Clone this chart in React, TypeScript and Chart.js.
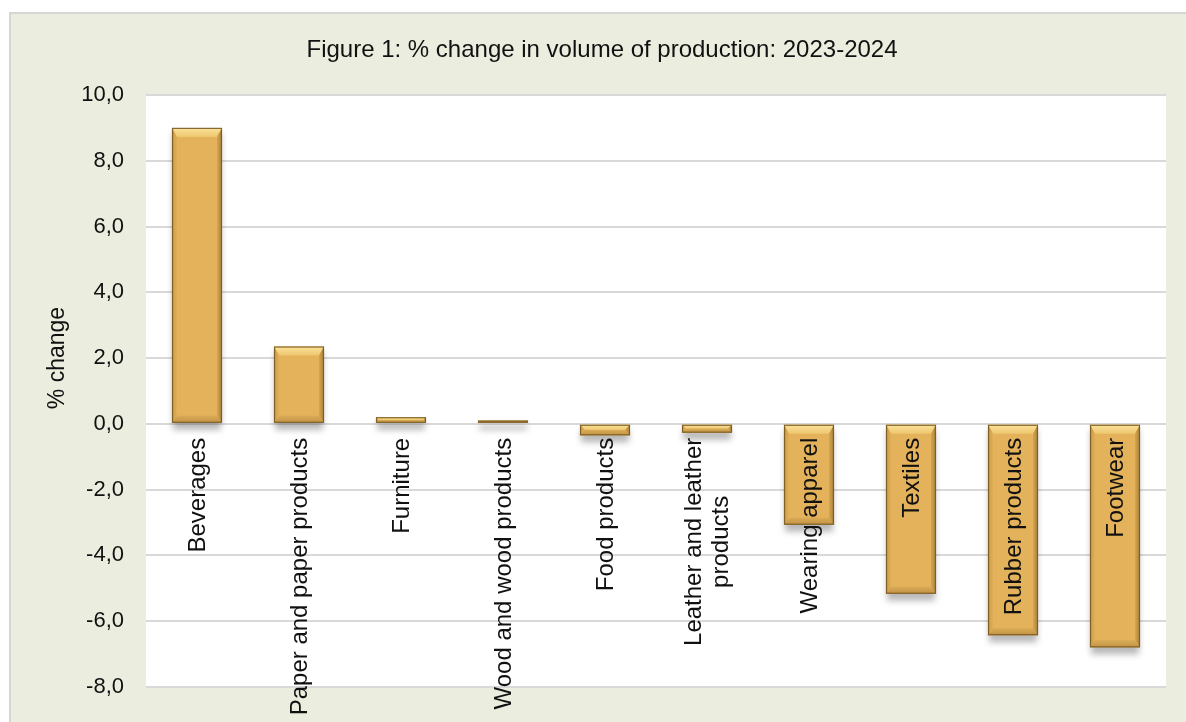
import React, { useEffect, useRef } from "react";
import { Chart, registerables } from "chart.js";

Chart.register(...registerables);

const categories: string[][] = [
  ["Beverages"],
  ["Paper and paper products"],
  ["Furniture"],
  ["Wood and wood products"],
  ["Food products"],
  ["Leather and leather", "products"],
  ["Wearing apparel"],
  ["Textiles"],
  ["Rubber products"],
  ["Footwear"],
];
const values: number[] = [9.0, 2.35, 0.2, 0.1, -0.35, -0.27, -3.07, -5.17, -6.43, -6.8];
const yMin = -8;
const yMax = 10;
const yStep = 2;
const titleText = "Figure 1: % change in volume of production: 2023-2024";
const yAxisTitle = "% change";

const FONT = "'Liberation Sans', Arial, sans-serif";
const TEXT = "#111111";
const BAR = "#E3B25A";

const panelPlugin = {
  id: "panel",
  beforeDraw(chart: any) {
    const { ctx, width, height, chartArea } = chart;
    ctx.save();
    ctx.fillStyle = "#ffffff";
    ctx.fillRect(0, 0, width, height);
    ctx.fillStyle = "#EBEEDF";
    ctx.fillRect(10, 13, width - 10, height - 13);
    ctx.strokeStyle = "#D6D6D6";
    ctx.lineWidth = 2;
    ctx.strokeRect(10, 13, width + 10, height + 10);
    ctx.fillStyle = "#ffffff";
    ctx.fillRect(chartArea.left, chartArea.top, chartArea.right - chartArea.left, chartArea.bottom - chartArea.top);
    ctx.restore();
  },
  afterDraw(chart: any) {
    const { ctx } = chart;
    ctx.save();
    ctx.fillStyle = TEXT;
    ctx.font = `24px ${FONT}`;
    ctx.textAlign = "center";
    ctx.textBaseline = "alphabetic";
    ctx.fillText(titleText, 602, 57);
    ctx.translate(64, 358);
    ctx.rotate(-Math.PI / 2);
    ctx.font = `23px ${FONT}`;
    ctx.textAlign = "center";
    ctx.fillText(yAxisTitle, 0, 0);
    ctx.restore();
  },
};

const barBox = (el: any) => {
  const p = el.getProps(["x", "y", "base", "width"], true);
  const l = p.x - p.width / 2;
  const r = p.x + p.width / 2;
  const t = Math.min(p.y, p.base);
  const b = Math.max(p.y, p.base);
  return { l, r, t, b };
};

const barStylePlugin = {
  id: "barStyle",
  beforeDatasetsDraw(chart: any) {
    const ctx = chart.ctx;
    const meta = chart.getDatasetMeta(0);
    ctx.save();
    ctx.filter = "blur(3px)";
    ctx.fillStyle = "rgba(0,0,0,0.28)";
    meta.data.forEach((el: any) => {
      const { l, r, t, b } = barBox(el);
      ctx.fillRect(l + 1, t + 5, r - l - 2, b - t + 2);
    });
    ctx.restore();
  },
  afterDatasetsDraw(chart: any) {
    const ctx = chart.ctx;
    const meta = chart.getDatasetMeta(0);
    ctx.save();
    meta.data.forEach((el: any) => {
      const { l, r, t, b } = barBox(el);
      const h = b - t;
      const tb = Math.min(9, h / 2);
      const bb = Math.min(7, h / 2);
      const sb = Math.min(5, h / 2);
      const il = l + sb, ir = r - sb, it = t + tb, ib = b - bb;
      const poly = (pts: number[][], fill: any) => {
        ctx.beginPath();
        ctx.moveTo(pts[0][0], pts[0][1]);
        for (let i = 1; i < pts.length; i++) ctx.lineTo(pts[i][0], pts[i][1]);
        ctx.closePath();
        ctx.fillStyle = fill;
        ctx.fill();
      };
      const gTop = ctx.createLinearGradient(0, t, 0, it);
      gTop.addColorStop(0, "#FBE39A");
      gTop.addColorStop(1, "#EEC66E");
      poly([[l, t], [r, t], [ir, it], [il, it]], gTop);
      const gBot = ctx.createLinearGradient(0, ib, 0, b);
      gBot.addColorStop(0, "#D9AB56");
      gBot.addColorStop(1, "#C29244");
      poly([[l, b], [r, b], [ir, ib], [il, ib]], gBot);
      const gL = ctx.createLinearGradient(l, 0, il, 0);
      gL.addColorStop(0, "#C99A48");
      gL.addColorStop(1, "#E0AF58");
      poly([[l, t], [il, it], [il, ib], [l, b]], gL);
      const gR = ctx.createLinearGradient(ir, 0, r, 0);
      gR.addColorStop(0, "#D5A652");
      gR.addColorStop(1, "#A98238");
      poly([[r, t], [ir, it], [ir, ib], [r, b]], gR);
      ctx.strokeStyle = "rgba(120,90,35,0.9)";
      ctx.lineWidth = 1.2;
      ctx.strokeRect(l + 0.5, t + 0.5, r - l - 1, Math.max(0, h - 1));
    });
    ctx.restore();

    // category labels
    const yScale = chart.scales.y;
    const zero = yScale.getPixelForValue(0);
    ctx.save();
    ctx.fillStyle = TEXT;
    ctx.font = `24px ${FONT}`;
    ctx.textAlign = "center";
    ctx.textBaseline = "middle";
    const lh = 27;
    meta.data.forEach((el: any, i: number) => {
      const lines = categories[i];
      const maxW = Math.max(...lines.map((s) => ctx.measureText(s).width));
      ctx.save();
      ctx.translate(el.x, zero + 14);
      ctx.rotate(-Math.PI / 2);
      lines.forEach((s, k) => {
        const off = (k - (lines.length - 1) / 2) * lh;
        ctx.fillText(s, -maxW / 2, off + 1);
      });
      ctx.restore();
    });
    ctx.restore();
  },
};

export default function App() {
  const ref = useRef<HTMLCanvasElement | null>(null);
  useEffect(() => {
    if (!ref.current) return;
    const chart = new Chart(ref.current, {
      type: "bar",
      data: {
        labels: categories.map((c) => c.join(" ")),
        datasets: [
          {
            data: values,
            backgroundColor: BAR,
            borderWidth: 0,
            barPercentage: 0.49,
            categoryPercentage: 1.0,
          },
        ],
      },
      options: {
        responsive: false,
        animation: false,
        devicePixelRatio: 1,
        layout: { padding: { top: 95, right: 20, bottom: 35, left: 0 } },
        plugins: { legend: { display: false }, tooltip: { enabled: false }, title: { display: false } },
        scales: {
          x: { display: false },
          y: {
            min: yMin,
            max: yMax,
            border: { display: false },
            grid: { color: "#D9D9D9", lineWidth: 2, drawTicks: false },
            ticks: {
              stepSize: yStep,
              padding: 22,
              color: TEXT,
              font: { size: 22, family: FONT },
              callback: (v: any) => Number(v).toFixed(1).replace(".", ","),
            },
            afterFit: (scale: any) => {
              scale.width = 146;
            },
          },
        },
      },
      plugins: [panelPlugin, barStylePlugin],
    });
    return () => chart.destroy();
  }, []);
  return (
    <div style={{ position: "absolute", left: 0, top: 0, width: 1186, height: 722 }}>
      <canvas ref={ref} width={1186} height={722} style={{ display: "block" }} />
    </div>
  );
}
